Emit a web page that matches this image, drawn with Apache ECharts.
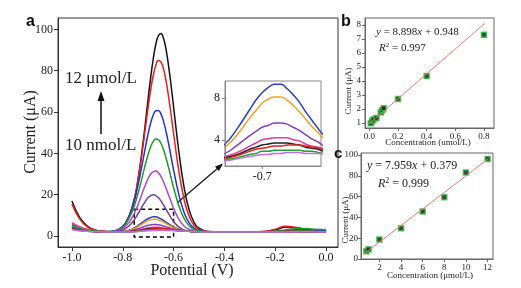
<!DOCTYPE html>
<html>
<head>
<meta charset="utf-8">
<script src="https://cdn.jsdelivr.net/npm/echarts@6/dist/echarts.min.js"></script>
<style>
  html, body { margin: 0; padding: 0; background: #fff; }
  #chart { width: 521px; height: 288px; }
</style>
</head>
<body>
<div id="chart"></div>
<script>
// potentials (V) shared by every voltammogram
const potential = [-1.0, -0.97, -0.94, -0.91, -0.88, -0.85, -0.82, -0.79, -0.76, -0.74, -0.72, -0.71, -0.70, -0.69, -0.68, -0.67, -0.66, -0.65, -0.64, -0.63, -0.62, -0.61, -0.60, -0.58, -0.56, -0.54, -0.52, -0.50, -0.46, -0.42, -0.36, -0.30, -0.24, -0.20, -0.16, -0.12, -0.08, -0.04, 0.0];

// current (uA), highest concentration first
const cur12um   = [17, 9, 4.8, 3.0, 2.3, 2.1, 2.8, 5.7, 15.0, 27.4, 45.4, 55.9, 66.7, 76.9, 85.9, 92.8, 96.9, 98.0, 95.7, 90.4, 82.5, 72.9, 62.4, 41.5, 24.5, 13.2, 6.8, 3.8, 2.2, 2.0, 2.0, 2.0, 2.2, 3.0, 4.2, 4.0, 3.2, 2.8, 2.5];
const cur10um   = [15.5, 8.3, 4.5, 2.9, 2.3, 2.1, 2.9, 6.0, 15.5, 27.5, 44.0, 53.3, 62.5, 70.9, 77.8, 82.6, 84.9, 84.3, 81.0, 75.2, 67.6, 58.8, 49.5, 32.0, 18.5, 9.9, 5.3, 3.2, 2.1, 2.0, 2.0, 2.0, 2.2, 3.3, 4.7, 4.2, 3.2, 2.8, 2.6];
const cur8um    = [4.5, 3.4, 2.7, 2.3, 2.1, 2.2, 3.1, 6.3, 14.9, 24.7, 37.1, 43.6, 49.6, 54.8, 58.6, 60.6, 60.8, 59.1, 55.6, 50.7, 44.8, 38.4, 32.0, 20.4, 11.9, 6.6, 3.9, 2.7, 2.1, 2.0, 2.0, 2.0, 2.0, 2.2, 2.6, 3.0, 3.1, 2.9, 2.7];
const cur6um    = [5.5, 4.0, 3.0, 2.4, 2.1, 2.2, 2.9, 5.7, 12.8, 20.7, 30.3, 35.2, 39.6, 43.2, 45.8, 46.9, 46.6, 44.9, 41.9, 37.9, 33.2, 28.3, 23.4, 14.9, 8.8, 5.1, 3.3, 2.5, 2.0, 2.0, 2.0, 2.0, 2.0, 2.3, 2.9, 3.5, 3.6, 3.3, 3.0];
const cur4um    = [6.0, 4.2, 3.1, 2.5, 2.2, 2.1, 2.6, 4.6, 9.7, 15.3, 21.9, 25.1, 27.9, 30.0, 31.2, 31.5, 30.6, 28.9, 26.3, 23.2, 19.9, 16.6, 13.4, 8.3, 5.0, 3.3, 2.5, 2.1, 2.0, 2.0, 2.0, 1.9, 1.9, 2.0, 2.1, 2.3, 2.3, 2.2, 2.1];
const cur2um    = [5.0, 3.8, 2.9, 2.4, 2.1, 2.1, 2.4, 3.6, 7.0, 10.8, 15.1, 17.0, 18.6, 19.6, 20.0, 19.6, 18.6, 17.0, 15.1, 12.9, 10.8, 8.8, 7.0, 4.4, 3.0, 2.4, 2.1, 2.0, 2.0, 2.0, 2.0, 1.9, 1.9, 2.0, 2.1, 2.2, 2.2, 2.1, 2.0];
const cur1um    = [4.0, 3.2, 2.6, 2.3, 2.1, 2.0, 2.0, 2.4, 3.6, 5.1, 6.9, 7.8, 8.5, 9.0, 9.3, 9.3, 8.9, 8.3, 7.6, 6.7, 5.9, 5.1, 4.4, 3.3, 2.7, 2.4, 2.1, 2.0, 2.0, 2.0, 1.9, 1.9, 1.9, 2.0, 2.1, 2.3, 2.4, 2.3, 2.2];
const cur800nm  = [3.8, 3.0, 2.5, 2.2, 2.0, 2.0, 2.0, 2.3, 3.3, 4.5, 6.1, 6.8, 7.5, 7.9, 8.1, 8.1, 7.8, 7.3, 6.7, 6.0, 5.3, 4.7, 4.1, 3.2, 2.6, 2.4, 2.1, 2.0, 2.0, 2.0, 1.9, 1.9, 1.9, 2.0, 2.0, 2.1, 2.2, 2.1, 2.0];
const cur400nm  = [4.2, 3.3, 2.7, 2.3, 2.1, 2.0, 2.0, 2.1, 2.7, 3.5, 4.4, 4.8, 5.2, 5.4, 5.6, 5.6, 5.5, 5.2, 4.9, 4.5, 4.1, 3.8, 3.4, 2.9, 2.5, 2.3, 2.1, 2.0, 2.0, 2.0, 1.9, 1.9, 1.9, 2.0, 2.1, 2.2, 2.2, 2.1, 2.0];
const cur200nm  = [6.5, 4.5, 3.2, 2.5, 2.2, 2.0, 2.0, 2.0, 2.4, 2.8, 3.4, 3.7, 4.0, 4.1, 4.2, 4.2, 4.2, 4.0, 3.9, 3.6, 3.4, 3.3, 3.1, 2.7, 2.5, 2.3, 2.1, 2.0, 2.0, 2.0, 1.9, 1.9, 1.9, 2.0, 2.0, 2.1, 2.1, 2.0, 2.0];
const cur100nm  = [3.5, 2.8, 2.4, 2.1, 2.0, 2.0, 2.0, 2.0, 2.3, 2.6, 3.1, 3.3, 3.5, 3.6, 3.7, 3.7, 3.7, 3.6, 3.5, 3.3, 3.2, 3.1, 2.9, 2.6, 2.4, 2.3, 2.1, 2.0, 2.0, 2.0, 1.9, 1.9, 2.0, 2.1, 2.2, 2.2, 2.1, 2.0, 2.0];
const cur80nm   = [3.3, 2.7, 2.3, 2.1, 2.0, 2.0, 2.0, 2.0, 2.2, 2.5, 2.9, 3.1, 3.2, 3.3, 3.4, 3.4, 3.5, 3.5, 3.5, 3.4, 3.35, 3.25, 3.1, 2.9, 2.6, 2.4, 2.1, 2.0, 2.0, 2.0, 1.9, 1.9, 2.0, 2.1, 2.3, 2.3, 2.2, 2.1, 2.0];
const cur40nm   = [5.0, 3.7, 2.9, 2.4, 2.1, 2.0, 2.0, 2.0, 2.1, 2.3, 2.6, 2.7, 2.9, 2.9, 3.0, 3.0, 3.0, 3.0, 3.0, 2.9, 2.9, 2.8, 2.7, 2.6, 2.4, 2.3, 2.1, 2.0, 2.0, 2.0, 1.9, 1.9, 2.0, 2.1, 2.2, 2.3, 2.3, 2.2, 2.1];
const cur10nm   = [3.2, 2.6, 2.3, 2.1, 2.0, 2.0, 1.95, 1.9, 2.0, 2.2, 2.4, 2.5, 2.6, 2.6, 2.7, 2.7, 2.8, 2.8, 2.8, 2.7, 2.7, 2.7, 2.65, 2.5, 2.4, 2.3, 2.1, 2.0, 2.0, 1.9, 1.9, 1.9, 1.9, 2.0, 2.0, 2.1, 2.1, 2.0, 2.0];

const curves = [
  { data: cur12um,  color: '#111111', inset: false },
  { data: cur10um,  color: '#ee1c1c', inset: false },
  { data: cur8um,   color: '#2233cc', inset: false },
  { data: cur6um,   color: '#1e9a2a', inset: false },
  { data: cur4um,   color: '#b048c8', inset: false },
  { data: cur2um,   color: '#7a3c9c', inset: false },
  { data: cur1um,   color: '#2a3ec4', inset: true },
  { data: cur800nm, color: '#f5a020', inset: true },
  { data: cur400nm, color: '#8040c0', inset: true },
  { data: cur200nm, color: '#e8389c', inset: true },
  { data: cur100nm, color: '#222222', inset: true },
  { data: cur80nm,  color: '#e42020', inset: true },
  { data: cur40nm,  color: '#22a030', inset: true },
  { data: cur10nm,  color: '#c070e0', inset: true }
];

// zoom box drawn on the main plot (V, uA)
const zoomBox = [-0.755, -0.6, -0.5, 13];

// panel b: low range calibration
const bConc = [0.01, 0.02, 0.03, 0.05, 0.08, 0.09, 0.1, 0.2, 0.4, 0.8];
const bCur  = [0.98, 1.15, 1.25, 1.35, 1.75, 1.9, 2.05, 2.72, 4.35, 7.3];
const bFitX = [0.0, 0.806];
const bFitY = [0.948, 8.12];

// panel c: high range calibration
const cConc = [0.8, 1, 2, 4, 6, 8, 10, 12];
const cCur  = [7.4, 9.3, 18.7, 29.5, 45.8, 59.5, 83.2, 96.2];
const cFitX = [0.5, 12.07];
const cFitY = [4.36, 96.45];

// tick labels
const potTicks = [-1.0, -0.8, -0.6, -0.4, -0.2, 0.0];
const curTicks = [0, 20, 40, 60, 80, 100];
const insetXTicks = [-0.7];
const insetYTicks = [4, 8];
const bXTicks = [0.0, 0.2, 0.4, 0.6, 0.8];
const bYTicks = [1, 2, 3, 4, 5, 6, 7, 8];
const cXTicks = [2, 4, 6, 8, 10, 12];
const cYTicks = [0, 20, 40, 60, 80, 100];

const SERIF = '"Liberation Serif", "Times New Roman", serif';
const SANS = '"Liberation Sans", Arial, sans-serif';
const INK = '#222';

function axis(gridIndex, min, max, ticks, opts) {
  opts = opts || {};
  return {
    type: 'value', gridIndex: gridIndex, min: min, max: max, z: opts.z || 0,
    axisLine: { show: true, onZero: false, lineStyle: { color: opts.lineColor || '#333', width: 1 } },
    axisTick: { show: true, customValues: ticks, length: opts.tickLen || 4, lineStyle: { color: opts.lineColor || '#333' } },
    axisLabel: {
      customValues: ticks, fontFamily: SERIF, fontSize: opts.fontSize || 12, color: INK,
      margin: opts.margin || 5, formatter: opts.formatter || (v => String(v))
    },
    splitLine: { show: false },
    name: opts.name || '', nameLocation: 'middle', nameGap: opts.nameGap || 20,
    nameTextStyle: { fontFamily: SERIF, fontSize: opts.nameSize || 16, color: INK }
  };
}

const chart = echarts.init(document.getElementById('chart'), null, { renderer: 'canvas' });

const series = [];
curves.forEach((c, i) => {
  const s = {
    type: 'line', xAxisIndex: 0, yAxisIndex: 0, smooth: true, showSymbol: false,
    lineStyle: { color: c.color, width: 1.5 }, itemStyle: { color: c.color },
    silent: true, z: 2,
    data: potential.map((p, k) => [p, c.data[k]])
  };
  if (i === 0) {
    s.markArea = {
      silent: true,
      itemStyle: { color: 'rgba(0,0,0,0)', borderColor: '#000', borderWidth: 1.5, borderType: [4, 3] },
      data: [[{ coord: [zoomBox[0], zoomBox[3]] }, { coord: [zoomBox[1], zoomBox[2]] }]]
    };
  }
  series.push(s);
  if (c.inset) {
    series.push({
      type: 'line', xAxisIndex: 1, yAxisIndex: 1, smooth: true, showSymbol: false, clip: true,
      lineStyle: { color: c.color, width: 1.5 }, silent: true, z: 10,
      data: potential.map((p, k) => [p, c.data[k]])
    });
  }
});

series.push({
  type: 'line', xAxisIndex: 2, yAxisIndex: 2, showSymbol: false, silent: true,
  lineStyle: { color: '#f07878', width: 1 },
  data: bFitX.map((x, k) => [x, bFitY[k]])
});
series.push({
  type: 'scatter', xAxisIndex: 2, yAxisIndex: 2, symbol: 'rect', symbolSize: 5, silent: true,
  itemStyle: { color: '#111', borderColor: '#2cbf3c', borderWidth: 1.5 },
  data: bConc.map((x, k) => [x, bCur[k]])
});
series.push({
  type: 'line', xAxisIndex: 3, yAxisIndex: 3, showSymbol: false, silent: true,
  lineStyle: { color: '#f07878', width: 1 },
  data: cFitX.map((x, k) => [x, cFitY[k]])
});
series.push({
  type: 'scatter', xAxisIndex: 3, yAxisIndex: 3, symbol: 'rect', symbolSize: 5, silent: true,
  itemStyle: { color: '#111', borderColor: '#2cbf3c', borderWidth: 1.5 },
  data: cConc.map((x, k) => [x, cCur[k]])
});

function eqText(x, y, size, text) {
  return {
    type: 'text', left: x, top: y, silent: true,
    style: {
      text: text, fontFamily: SERIF, fontSize: size, fill: INK,
      rich: {
        i: { fontFamily: SERIF, fontSize: size, fontStyle: 'italic', fill: INK },
        sup: { fontFamily: SERIF, fontSize: size - 4, fill: INK, padding: [0, 0, 6, 0] }
      }
    }
  };
}

function vText(x, y, size, text) {
  return {
    type: 'text', x: x, y: y, rotation: Math.PI / 2, silent: true,
    style: { text: text, fontFamily: SERIF, fontSize: size, fill: INK, align: 'center', verticalAlign: 'middle' }
  };
}

function hText(x, y, size, text) {
  return {
    type: 'text', x: x, y: y, silent: true,
    style: { text: text, fontFamily: SERIF, fontSize: size, fill: INK, align: 'center', verticalAlign: 'middle' }
  };
}

const option = {
  backgroundColor: '#ffffff',
  animation: false,
  grid: [
    { left: 58, top: 18, width: 280, height: 229, show: true, borderColor: '#333', borderWidth: 1, backgroundColor: 'transparent' },
    { left: 225, top: 81, width: 96, height: 85, show: true, borderColor: '#888', borderWidth: 1, backgroundColor: '#fff', z: 5 },
    { left: 365, top: 18, width: 129, height: 110, show: true, borderColor: '#666', borderWidth: 1 },
    { left: 361, top: 153, width: 132, height: 106, show: true, borderColor: '#666', borderWidth: 1 }
  ],
  xAxis: [
    axis(0, -1.055, 0.047, potTicks, { formatter: v => v.toFixed(1) }),
    axis(1, -0.76, -0.605, insetXTicks, { formatter: v => v.toFixed(1), lineColor: '#888', tickLen: 3, z: 11 }),
    axis(2, -0.03, 0.87, bXTicks, { formatter: v => v.toFixed(1), fontSize: 9, margin: 4, lineColor: '#666', tickLen: 3 }),
    axis(3, 0.3, 12.5, cXTicks, { fontSize: 9, margin: 4, lineColor: '#666', tickLen: 3 })
  ],
  yAxis: [
    axis(0, -5.3, 105.5, curTicks, { margin: 5 }),
    axis(1, 1.5, 9.62, insetYTicks, { lineColor: '#888', tickLen: 3, z: 11 }),
    axis(2, 0.64, 8.5, bYTicks, { fontSize: 9, margin: 4, lineColor: '#666', tickLen: 3 }),
    axis(3, 0, 102, cYTicks, { fontSize: 9, margin: 3, lineColor: '#666', tickLen: 3 })
  ],
  series: series,
  graphic: [
    { type: 'text', left: 26, top: 14, style: { text: 'a', fontFamily: SANS, fontWeight: 'bold', fontSize: 16, fill: '#111' } },
    { type: 'text', left: 341, top: 14, style: { text: 'b', fontFamily: SANS, fontWeight: 'bold', fontSize: 16, fill: '#111' } },
    { type: 'text', left: 334, top: 146, style: { text: 'c', fontFamily: SANS, fontWeight: 'bold', fontSize: 15, fill: '#111' } },
    { type: 'text', left: 65, top: 70, style: { text: '12 \u03bcmol/L', fontFamily: SERIF, fontSize: 17, fill: INK } },
    { type: 'text', left: 65, top: 137, style: { text: '10 nmol/L', fontFamily: SERIF, fontSize: 17, fill: INK } },
    { type: 'line', shape: { x1: 101, y1: 134, x2: 101, y2: 99 }, style: { stroke: '#111', lineWidth: 1.5 } },
    { type: 'polygon', shape: { points: [[101, 91], [97.5, 101], [104.5, 101]] }, style: { fill: '#111' } },
    { type: 'line', shape: { x1: 177, y1: 203, x2: 218, y2: 168 }, style: { stroke: '#111', lineWidth: 1.2 } },
    { type: 'polygon', shape: { points: [[223, 163.5], [218.9, 171], [215, 166.4]] }, style: { fill: '#111' } },
    eqText(376, 27, 11, '{i|y} = 8.898{i|x} + 0.948'),
    eqText(379, 42, 11, '{i|R}{sup|2} = 0.997'),
    eqText(367, 160, 12, '{i|y} = 7.959{i|x} + 0.379'),
    eqText(378, 177, 12, '{i|R}{sup|2} = 0.999'),
    vText(31, 132, 16, 'Current (\u03bcA)'),
    hText(192, 271, 16, 'Potential (V)'),
    vText(349, 91, 9, 'Current (\u03bcA)'),
    vText(346, 220, 9, 'Current (\u03bcA)'),
    hText(428, 143, 9, 'Concentration (umol/L)'),
    hText(430, 276, 9, 'Concentration (\u03bcmol/L)')
  ]
};

chart.setOption(option);
</script>
</body>
</html>
